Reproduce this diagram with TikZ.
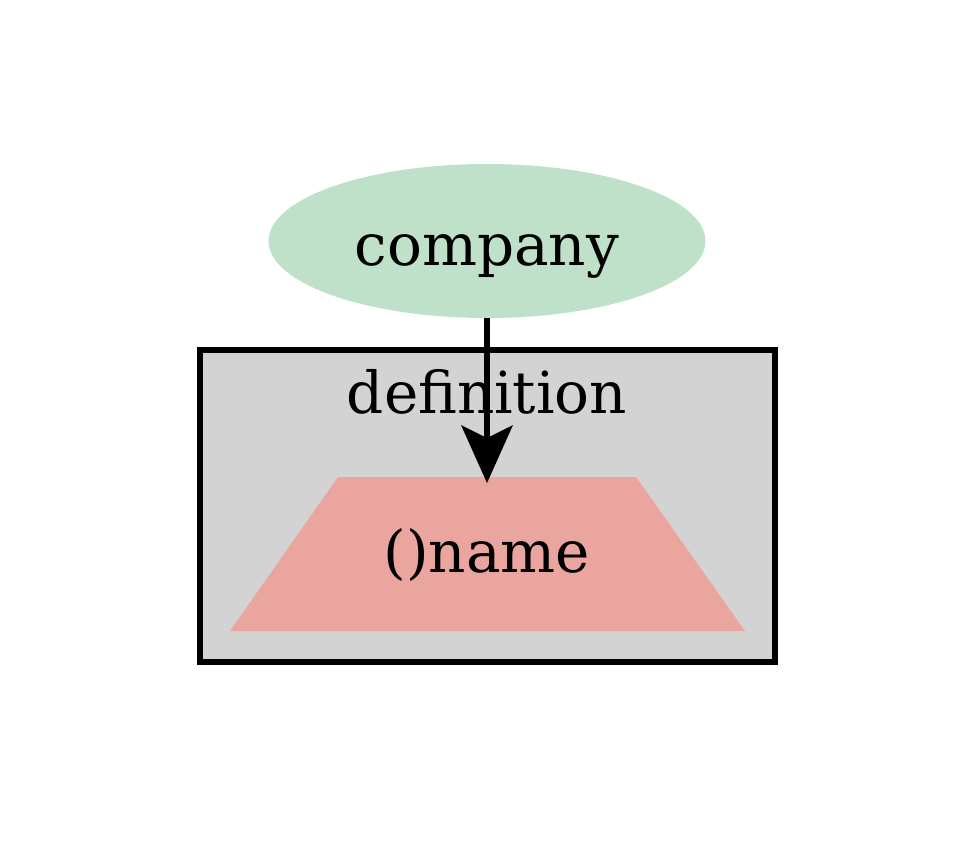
\documentclass[tikz,border=0pt]{standalone}
\usepackage{fontspec}
\setmainfont{DejaVu Serif}
\usetikzlibrary{shapes.geometric}
\definecolor{entgreen}{HTML}{BFE0C9}
\definecolor{clustergray}{HTML}{D3D3D3}
\definecolor{attrred}{HTML}{EAA59F}
\tikzset{
  lbl/.style={font=\fontsize{58}{62}\selectfont, inner sep=0pt, anchor=base},
  edgeline/.style={line width=6pt},
}
\begin{document}
\begin{tikzpicture}[x=1pt,y=-1pt]
\useasboundingbox (0,0) rectangle (975,863);
% cluster
\draw[fill=clustergray, edgeline] (200,350) rectangle (775,662);
\node[lbl] (deflabel) at (487,413) {definition};
% entity
\node[ellipse, fill=entgreen, minimum width=437pt, minimum height=154pt, inner sep=0pt] (company) at (487,241) {};
\node[lbl] (companylabel) at (487,265) {company};
% attribute trapezoid
\fill[attrred] (338,477) -- (636,477) -- (745,631) -- (230,631) -- cycle;
\coordinate (nametop) at (487,483);
\node[lbl] (name) at (487,572) {()name};
% connector
\draw[edgeline] (company.south) -- (487,438);
\fill (nametop) -- (461,425) -- (487,438) -- (513,425) -- cycle;
\end{tikzpicture}
\end{document}
